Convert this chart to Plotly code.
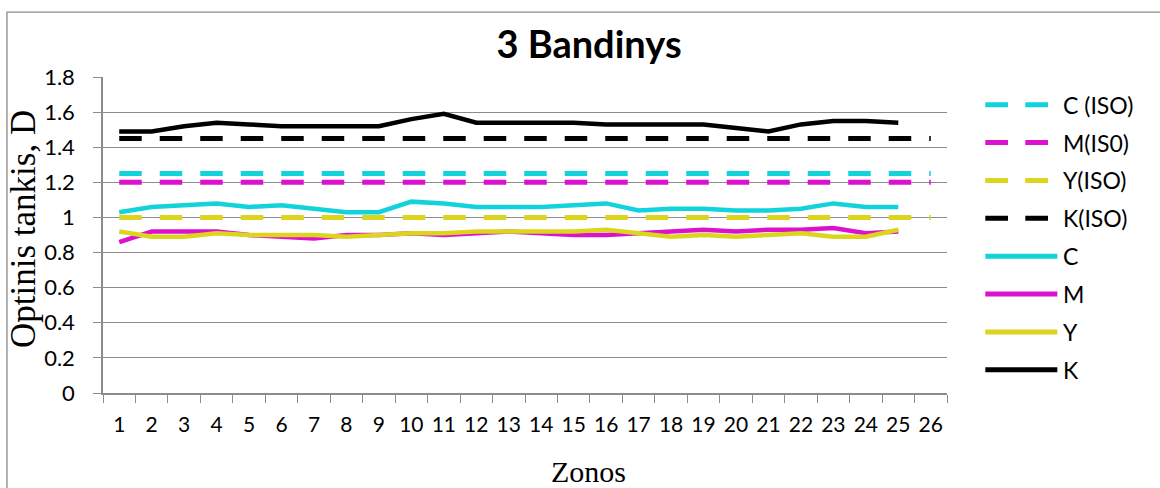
import plotly.graph_objects as go

# Zones along the printed strip
zones = [str(i) for i in range(1, 27)]

# ISO reference densities (flat across all 26 zones)
iso_c = [1.25] * 26
iso_m = [1.20] * 26
iso_y = [1.00] * 26
iso_k = [1.45] * 26

# Measured optical densities, zones 1-25
dens_c = [1.03, 1.06, 1.07, 1.08, 1.06, 1.07, 1.05, 1.03, 1.03, 1.09, 1.08, 1.06, 1.06,
          1.06, 1.07, 1.08, 1.04, 1.05, 1.05, 1.04, 1.04, 1.05, 1.08, 1.06, 1.06]
dens_m = [0.86, 0.92, 0.92, 0.92, 0.90, 0.89, 0.88, 0.90, 0.90, 0.91, 0.90, 0.91, 0.92,
          0.91, 0.90, 0.90, 0.91, 0.92, 0.93, 0.92, 0.93, 0.93, 0.94, 0.91, 0.92]
dens_y = [0.92, 0.89, 0.89, 0.91, 0.90, 0.90, 0.90, 0.89, 0.90, 0.91, 0.91, 0.92, 0.92,
          0.92, 0.92, 0.93, 0.91, 0.89, 0.90, 0.89, 0.90, 0.91, 0.89, 0.89, 0.93]
dens_k = [1.49, 1.49, 1.52, 1.54, 1.53, 1.52, 1.52, 1.52, 1.52, 1.56, 1.59, 1.54, 1.54,
          1.54, 1.54, 1.53, 1.53, 1.53, 1.53, 1.51, 1.49, 1.53, 1.55, 1.55, 1.54]

CYAN = "#12D3DC"
MAGENTA = "#DD10D0"
YELLOW = "#DDD41E"
BLACK = "#000000"
GRID = "#8C8C8C"

W, H = 1160, 488
L, R, T, B = 103, 946.7, 77.3, 392.7
pw, ph = R - L, B - T


def px_x(x):
    return (x - L) / pw


def px_y(y):
    return (B - y) / ph


fig = go.Figure()

series = [
    ("C (ISO)", zones, iso_c, CYAN, True),
    ("M(IS0)", zones, iso_m, MAGENTA, True),
    ("Y(ISO)", zones, iso_y, YELLOW, True),
    ("K(ISO)", zones, iso_k, BLACK, True),
    ("C", zones[:25], dens_c, CYAN, False),
    ("M", zones[:25], dens_m, MAGENTA, False),
    ("Y", zones[:25], dens_y, YELLOW, False),
    ("K", zones[:25], dens_k, BLACK, False),
]

shapes = []
annotations = []
for i, (name, xs, vals, col, dashed) in enumerate(series):
    fig.add_trace(go.Scatter(
        x=xs, y=vals, name=name, mode="lines", showlegend=False,
        line=dict(color=col, width=5 if dashed else 4.5,
                  dash="22.5px,18px" if dashed else "solid")))
    # legend row: swatch line plus label
    ly = 105 + 37.8 * i
    shapes.append(dict(
        type="line", xref="paper", yref="paper",
        x0=px_x(985), x1=px_x(1048 if dashed else 1057),
        y0=px_y(ly), y1=px_y(ly),
        line=dict(color=col, width=5, dash="22.7px,17.3px" if dashed else "solid")))
    annotations.append(dict(
        text=name, xref="paper", yref="paper", x=px_x(1061), y=px_y(ly),
        xanchor="left", yanchor="middle", showarrow=False,
        font=dict(family="Lato", size=23, color="black")))

# chart frame
shapes.append(dict(type="rect", xref="paper", yref="paper",
                   x0=px_x(7), x1=px_x(1175), y0=px_y(500), y1=px_y(12.5),
                   line=dict(color="#8A8A8A", width=1.3), fillcolor="rgba(0,0,0,0)",
                   layer="below"))

# axis titles
annotations.append(dict(text="Zonos", xref="paper", yref="paper",
                        x=px_x(588), y=px_y(471), xanchor="center", yanchor="middle",
                        showarrow=False,
                        font=dict(family="Liberation Serif", size=30, color="black")))
annotations.append(dict(text="Optinis tankis, D", xref="paper", yref="paper",
                        x=px_x(24), y=px_y(229), xanchor="center", yanchor="middle",
                        textangle=-90, showarrow=False,
                        font=dict(family="Liberation Serif", size=35, color="black")))

fig.update_layout(
    width=W, height=H,
    margin=dict(l=L, r=W - R, t=T, b=H - B, autoexpand=False),
    paper_bgcolor="white", plot_bgcolor="white",
    font=dict(family="Lato", size=21, color="black"),
    title=dict(text="<b>3 Bandinys</b>", x=589 / W, xref="container",
               xanchor="center", y=1 - 45 / H, yanchor="middle",
               font=dict(family="Lato", size=38, color="black")),
    showlegend=False,
    xaxis=dict(type="category", range=[-0.5, 25.5], showgrid=False, automargin=False,
               showline=True, linecolor=GRID, linewidth=1.5,
               ticks="outside", tickson="boundaries", ticklen=8, tickcolor=GRID,
               tickangle=0, tickfont=dict(family="Lato", size=21), ticklabelstandoff=12),
    yaxis=dict(range=[0, 1.8], dtick=0.2, showgrid=True, gridcolor=GRID, gridwidth=1,
               automargin=False,
               showline=True, linecolor=GRID, linewidth=1.5, zeroline=False,
               ticks="outside", ticklen=8, tickcolor=GRID,
               tickfont=dict(family="Lato", size=22), ticklabelstandoff=14,
               tickformat="~g"),
    shapes=shapes,
    annotations=annotations,
)

fig.write_html("out.html")
